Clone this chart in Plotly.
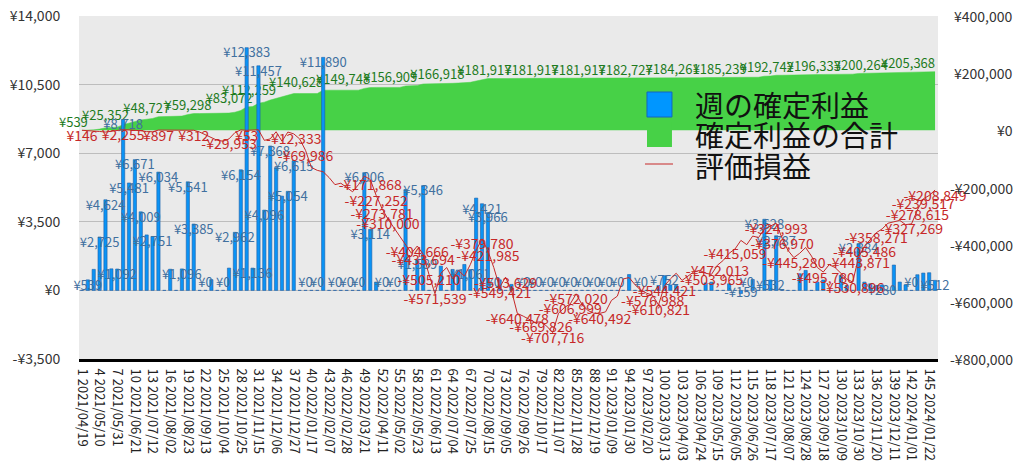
import pandas as pd
import plotly.graph_objects as go

# ---- data (weekly, 146 weeks starting 2021/04/19) ----
weeks = list(range(1, 147))
dates = pd.date_range("2021-04-19", periods=len(weeks), freq="7D")
week_labels = [f"{w} {d:%Y/%m/%d}" for w, d in zip(weeks, dates)]

# 週の確定利益 (left axis)
weekly_profit = [
    0, 539, 1073, 2725, 4624, 1100, 1092, 8718, 5481, 6671,
    4009, 2830, 2751, 6034, 0, 1080, 0, 1096, 5541, 3385,
    0, 0, 549, 0, 0, 1139, 2962, 6154, 12383, 1136,
    11457, 4096, 7368, 6266, 4810, 5054, 6615, 0, 0, 0,
    0, 11890, 0, 0, 0, 0, 0, 0, 6006, 3114,
    425, 0, 0, 0, 0, 5147, 0, 1589, 5346, 0,
    0, 1239, 0, 1069, 1032, 1323, 1061, 4709, 4421, 3966,
    0, 537, 0, 305, 0, 0, 0, 0, 0, 0,
    0, 0, 0, 0, 0, 0, 0, 0, 0, 0,
    0, 0, 0, 810, 0, 0, 0, 0, 250, 752,
    280, 252, 0, 0, 0, 0, 380, 420, 0, 0,
    337, 0, -159, 0, 556, 0, 3628, 532, 2787, 0,
    0, 0, 850, 1020, 0, 425, 531, 0, 0, 765,
    251, 0, 2384, 425, 340, 251, 280, 0, 1294, 425,
    289, 0, 799, 884, 901, 512,
]

# 確定利益の合計 (right axis)
total_profit = [
    0, 539, 1612, 4337, 8961, 10061, 11153, 19871, 25352, 32023,
    36032, 38862, 41613, 47647, 47647, 48727, 48727, 49823, 55364, 58749,
    58749, 58749, 59298, 59298, 59298, 60437, 63399, 69553, 81936, 83072,
    94529, 98625, 105993, 112259, 117069, 122123, 128738, 128738, 128738, 128738,
    128738, 140628, 140628, 140628, 140628, 140628, 140628, 140628, 146634, 149748,
    150173, 150173, 150173, 150173, 150173, 155320, 155320, 156909, 162255, 162255,
    162255, 163494, 163494, 164563, 165595, 166918, 167979, 172688, 177109, 181075,
    181075, 181612, 181612, 181917, 181917, 181917, 181917, 181917, 181917, 181917,
    181917, 181917, 181917, 181917, 181917, 181917, 181917, 181917, 181917, 181917,
    181917, 181917, 181917, 182727, 182727, 182727, 182727, 182727, 182977, 183729,
    184009, 184261, 184261, 184261, 184261, 184261, 184641, 185061, 185061, 185061,
    185398, 185398, 185239, 185239, 185795, 185795, 189423, 189955, 192742, 192742,
    192742, 192742, 193592, 194612, 194612, 195037, 195568, 195568, 195568, 196333,
    196584, 196584, 198968, 199393, 199733, 199984, 200264, 200264, 201558, 201983,
    202272, 202272, 203071, 203955, 204856, 205368,
]

# 評価損益 (right axis)
unrealized = [
    146, -500, -1500, -4000, -6000, -3000, 1000, 2255, 1500, 800,
    -1500, -4500, -5000, 897, 500, -500, 200, -1000, -800, 312,
    -6000, -15000, -25000, -35000, -38000, -29953, -8000, 1500, 53, 500,
    2000, -35000, -30000, -5000, -38000, -6000, -12333, -30000, -69986, -130000,
    -140000, -145000, -165000, -190000, -185000, -200000, -215000, -190000, -160000, -171868,
    -227252, -273781, -310000, -340000, -370000, -400000, -430000, -404666, -433694, -505210,
    -571539, -500000, -480000, -520000, -490000, -510000, -470000, -420000, -379780, -421985,
    -480000, -549421, -513629, -560000, -640478, -650000, -662000, -672000, -669826, -685000,
    -707716, -640000, -620000, -606999, -572020, -610000, -630000, -640000, -640492, -635000,
    -595000, -580000, -520000, -515000, -540000, -560000, -570000, -576988, -610821, -544421,
    -520000, -500000, -525000, -510000, -495000, -490000, -500000, -503965, -472013, -455000,
    -430000, -415059, -385000, -400000, -370000, -375000, -345000, -335000, -324993, -376970,
    -420000, -445280, -430000, -410000, -440000, -480000, -495780, -470000, -480000, -500000,
    -520000, -530896, -443871, -405486, -380000, -358271, -345000, -325000, -320000, -315000,
    -330000, -327269, -278615, -239517, -228000, -208849,
]

# weeks whose value labels are visible in the chart
bar_label_weeks = [2, 4, 5, 7, 8, 9, 10, 11, 13, 14, 18, 19, 20, 22, 25, 27, 28, 29,
                   30, 31, 32, 33, 36, 37, 39, 41, 42, 44, 46, 48, 49, 50, 52, 54, 58,
                   59, 67, 69, 70, 71, 76, 78, 80, 82, 84, 86, 88, 90, 92, 96, 100,
                   113, 114, 117, 118, 119, 133, 137, 142, 146]
total_label_weeks = [2, 9, 16, 23, 30, 34, 42, 50, 58, 66, 74, 82, 90, 98, 106,
                     114, 122, 130, 138, 146]
unreal_label_weeks = [1, 8, 14, 20, 26, 29, 37, 39, 50, 51, 52, 53, 58, 59, 60, 61,
                      69, 70, 72, 73, 75, 79, 81, 84, 85, 89, 98, 99, 100, 108, 109,
                      112, 119, 120, 122, 127, 132, 133, 134, 136, 142, 143, 144, 146]

left_ticks = [14000, 10500, 7000, 3500, 0, -3500]
right_ticks = [400000, 200000, 0, -200000, -400000, -600000, -800000]

FONT = "Noto Sans CJK JP"
BLUE = "#0A93F5"
GREEN = "#47D147"
RED = "#C62828"


def yen(v):
    return f"-¥{abs(v):,}" if v < 0 else f"¥{v:,}"


def labels(values, keep):
    keep = set(keep)
    return [yen(v) if w in keep else "" for w, v in zip(weeks, values)]


def bar_text_pos(v):
    if v > 0:
        return "bottom center"
    if v == 0:
        return "top center"
    return "middle center"


fig = go.Figure()

# cumulative realised profit - area (right scale, bottom layer)
fig.add_trace(go.Scatter(
    x=weeks, y=total_profit, yaxis="y", mode="lines+text",
    fill="tozeroy", fillcolor=GREEN, line=dict(color=GREEN, width=0.5),
    text=labels(total_profit, total_label_weeks), textposition="top left",
    textfont=dict(family=FONT, size=13, color="#1E7B1E"),
    cliponaxis=False, showlegend=False, hoverinfo="skip",
))

# weekly realised profit - bars (left scale)
fig.add_trace(go.Bar(
    x=weeks, y=weekly_profit, yaxis="y2", width=0.55,
    marker=dict(color=BLUE, line=dict(color="#1F5FA8", width=0.6)),
    showlegend=False, hoverinfo="skip",
))
fig.add_trace(go.Scatter(
    x=weeks, y=weekly_profit, yaxis="y2", mode="text",
    text=labels(weekly_profit, bar_label_weeks),
    textposition=[bar_text_pos(v) for v in weekly_profit],
    textfont=dict(family=FONT, size=13, color="#41709F"),
    cliponaxis=False, showlegend=False, hoverinfo="skip",
))

# unrealised P/L - line (right scale, top layer)
fig.add_trace(go.Scatter(
    x=weeks, y=unrealized, yaxis="y3", mode="lines+text",
    line=dict(color=RED, width=1),
    text=labels(unrealized, unreal_label_weeks), textposition="bottom center",
    textfont=dict(family=FONT, size=14, color=RED),
    cliponaxis=False, showlegend=False, hoverinfo="skip",
))

# right axis tick labels, right aligned like the original
for v in right_ticks:
    fig.add_annotation(x=1.0896, xref="paper", y=v, yref="y", text=yen(v),
                       showarrow=False, xanchor="right", yanchor="middle",
                       font=dict(family=FONT, size=14, color="#333333"))

# legend (drawn by hand to get the large symbols)
legend_items = ["週の確定利益", "確定利益の合計", "評価損益"]
fig.add_shape(type="rect", xref="paper", yref="paper", x0=0.6612, x1=0.6903,
              y0=0.7055, y1=0.7784, fillcolor="#0096FF",
              line=dict(color="#1565C0", width=1))
fig.add_shape(type="rect", xref="paper", yref="paper", x0=0.6612, x1=0.6903,
              y0=0.6181, y1=0.6910, fillcolor=GREEN, line=dict(width=0))
fig.add_shape(type="line", xref="paper", yref="paper", x0=0.6589, x1=0.6915,
              y0=0.5685, y1=0.5685, line=dict(color=RED, width=1))
for name, yy in zip(legend_items, [0.7420, 0.6546, 0.5655]):
    fig.add_annotation(x=0.7148, xref="paper", y=yy, yref="paper", text=name,
                       showarrow=False, xanchor="left", yanchor="middle",
                       font=dict(family=FONT, size=29, color="#111111"))

# the page adds an 8px body margin, so the figure is 8px smaller than the window
fig.update_layout(
    width=1016, height=462,
    margin=dict(l=71, r=86, t=8, b=111),
    paper_bgcolor="white", plot_bgcolor="#EAEAEA",
    font=dict(family=FONT, size=13, color="#333333"),
    bargap=0.45,
    xaxis=dict(
        range=[0.5, 146.5], tickmode="array",
        tickvals=weeks[::3], ticktext=week_labels[::3], tickangle=90,
        tickfont=dict(size=13, color="#222222"),
        ticks="outside", ticklen=4, tickcolor="rgba(0,0,0,0)",
        showline=True, linecolor="black", linewidth=3,
        showgrid=False, zeroline=False, automargin=False,
    ),
    yaxis=dict(
        range=[-800000, 400000], side="right", automargin=False,
        showgrid=False, zeroline=False, showticklabels=False,
    ),
    yaxis2=dict(
        range=[-3500, 14000], overlaying="y", side="left", automargin=False,
        tickmode="array", tickvals=left_ticks,
        ticktext=[yen(v) for v in left_ticks],
        tickfont=dict(size=14, color="#333333"),
        ticks="outside", ticklen=15, tickcolor="rgba(0,0,0,0)",
        ticklabeloverflow="allow",
        showgrid=True, gridcolor="#BDBDBD", gridwidth=1.2, zeroline=False,
    ),
    yaxis3=dict(
        range=[-800000, 400000], overlaying="y", visible=False, automargin=False,
    ),
)

fig.write_html("out.html")
